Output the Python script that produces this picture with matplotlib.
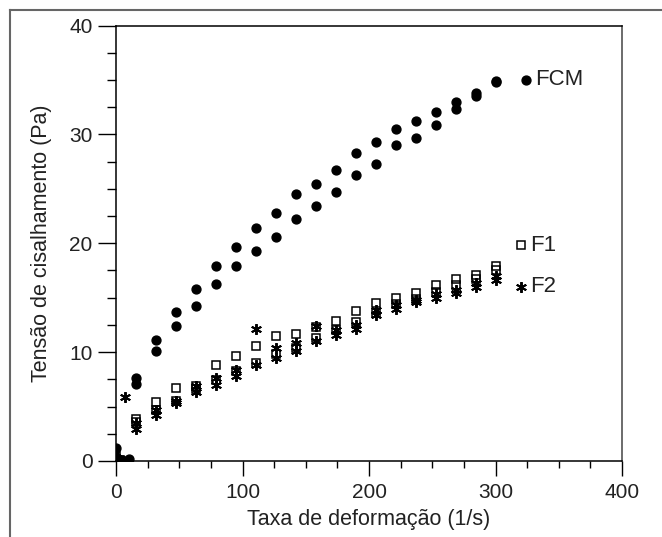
import matplotlib
matplotlib.use("Agg")
import matplotlib.pyplot as plt
from matplotlib.lines import Line2D
from matplotlib.ticker import MultipleLocator

plt.rcParams['font.family'] = ['Liberation Sans', 'DejaVu Sans']

# FCM (filled circles): ascending and descending branches
fcm_up_x = [0, 15.8, 31.6, 47.4, 63.2, 79, 94.8, 110.6, 126.4, 142.2, 158, 173.8,
            189.6, 205.4, 221.2, 237, 252.8, 268.6, 284.4, 300]
fcm_up_y = [1.2, 7.65, 11.1, 13.7, 15.8, 17.9, 19.7, 21.4, 22.8, 24.55, 25.4, 26.7,
            28.25, 29.3, 30.5, 31.2, 32.1, 33.0, 33.8, 34.9]
fcm_dn_x = [0, 2, 5, 10, 15.8, 31.6, 47.4, 63.2, 79, 94.8, 110.6, 126.4, 142.2, 158,
            173.8, 189.6, 205.4, 221.2, 237, 252.8, 268.6, 284.4, 300]
fcm_dn_y = [0.4, 0.1, 0.1, 0.15, 7.1, 10.1, 12.4, 14.2, 16.3, 17.9, 19.3, 20.6, 22.2,
            23.45, 24.7, 26.3, 27.3, 29.0, 29.7, 30.9, 32.3, 33.5, 34.8]

# F1 (open squares)
f1_up_x = [0, 15.8, 31.6, 47.4, 63.2, 79, 94.8, 110.6, 126.4, 142.2, 158, 173.8,
           189.6, 205.4, 221.2, 237, 252.8, 268.6, 284.4, 300]
f1_up_y = [0.5, 3.9, 5.4, 6.75, 6.9, 8.8, 9.6, 10.55, 11.5, 11.65, 12.35, 12.9,
           13.75, 14.5, 15.0, 15.4, 16.2, 16.75, 17.05, 17.9]
f1_dn_x = [0, 3, 15.8, 31.6, 47.4, 63.2, 79, 94.8, 110.6, 126.4, 142.2, 158, 173.8,
           189.6, 205.4, 221.2, 237, 252.8, 268.6, 284.4, 300]
f1_dn_y = [0.15, 0.1, 3.6, 4.7, 5.5, 6.6, 7.4, 8.3, 9.0, 9.85, 10.4, 11.3, 12.05,
           12.8, 13.6, 14.4, 14.9, 15.5, 16.2, 16.7, 17.5]

# F2 (asterisks)
f2_a_x = [0, 7.4, 15.8, 31.6, 47.4, 63.2, 79, 94.8, 110.6, 126.4, 142.2, 158, 173.8,
          189.6, 205.4, 221.2, 237, 252.8, 268.6, 284.4, 300]
f2_a_y = [0.3, 5.9, 3.5, 4.7, 5.5, 6.9, 7.6, 8.4, 12.1, 10.4, 10.8, 12.4, 12.0,
          12.5, 13.9, 14.35, 14.8, 15.3, 15.7, 16.35, 16.95]
f2_b_x = [3, 15.8, 31.6, 47.4, 63.2, 79, 94.8, 110.6, 126.4, 142.2, 158, 173.8,
          189.6, 205.4, 221.2, 237, 252.8, 268.6, 284.4, 300]
f2_b_y = [0.1, 2.9, 4.2, 5.3, 6.3, 7.0, 7.8, 8.8, 9.5, 10.1, 11.0, 11.6,
          12.1, 13.4, 14.0, 14.6, 15.0, 15.4, 16.0, 16.6]

# In-plot labels (marker position, text)
label_names = ["FCM", "F1", "F2"]
label_x = [324, 320, 320]
label_y = [35.0, 19.8, 16.0]

x_ticks = [0, 100, 200, 300, 400]
y_ticks = [0, 10, 20, 30, 40]

fig = plt.figure(figsize=(6.62, 5.37), dpi=100)
ax = fig.add_axes([116 / 662, 1 - 461 / 537, (622 - 116) / 662, (461 - 25.5) / 537])

circ = dict(marker='o', linestyle='none', color='black', markersize=6.4)
sq = dict(marker='s', linestyle='none', markerfacecolor='none', markeredgecolor='black',
          markersize=6.2, markeredgewidth=1.1)
ast = dict(marker=(6, 2, 0), linestyle='none', color='black', markersize=7.8,
           markeredgewidth=1.4)

ax.plot(f1_up_x, f1_up_y, **sq)
ax.plot(f1_dn_x, f1_dn_y, **sq)
ax.plot(f2_a_x, f2_a_y, **ast)
ax.plot(f2_b_x, f2_b_y, **ast)
ax.plot(fcm_up_x, fcm_up_y, **circ)
ax.plot(fcm_dn_x, fcm_dn_y, **circ)

styles = [circ, sq, ast]
for name, lx, ly, st in zip(label_names, label_x, label_y, styles):
    ax.plot([lx], [ly], **st)
    ax.text(lx + 7, ly, name, fontsize=16, va='center', ha='left', color='#222222')

ax.set_xlim(0, 400)
ax.set_ylim(0, 40)
ax.set_xticks(x_ticks)
ax.set_yticks(y_ticks)
ax.xaxis.set_minor_locator(MultipleLocator(25))
ax.yaxis.set_minor_locator(MultipleLocator(2.5))
ax.tick_params(axis='x', which='major', direction='out', length=11, width=1,
               labelsize=15, pad=5, top=False, labelcolor='#222222')
ax.tick_params(axis='x', which='minor', direction='out', length=5, width=1, top=False)
ax.tick_params(axis='y', which='major', direction='out', length=13, width=1,
               labelsize=15, pad=4, right=False, labelcolor='#222222')
ax.tick_params(axis='y', which='minor', direction='out', length=6.5, width=1, right=False)
for s in ax.spines.values():
    s.set_linewidth(1.1)
    s.set_color('black')
ax.spines['right'].set_color('#444444')

ax.set_xlabel("Taxa de deformação (1/s)", fontsize=15.5, labelpad=5, color='#222222')
ax.set_ylabel("Tensão de cisalhamento (Pa)", fontsize=15.5, labelpad=12, color='#222222')

# outer frame (left and top edges)
fig.add_artist(Line2D([10 / 662, 10 / 662], [0, 1 - 10 / 537], transform=fig.transFigure,
                      color='#666666', linewidth=1.5))
fig.add_artist(Line2D([10 / 662, 1], [1 - 10 / 537, 1 - 10 / 537], transform=fig.transFigure,
                      color='#666666', linewidth=1.5))

fig.savefig("out.png", dpi=100)
